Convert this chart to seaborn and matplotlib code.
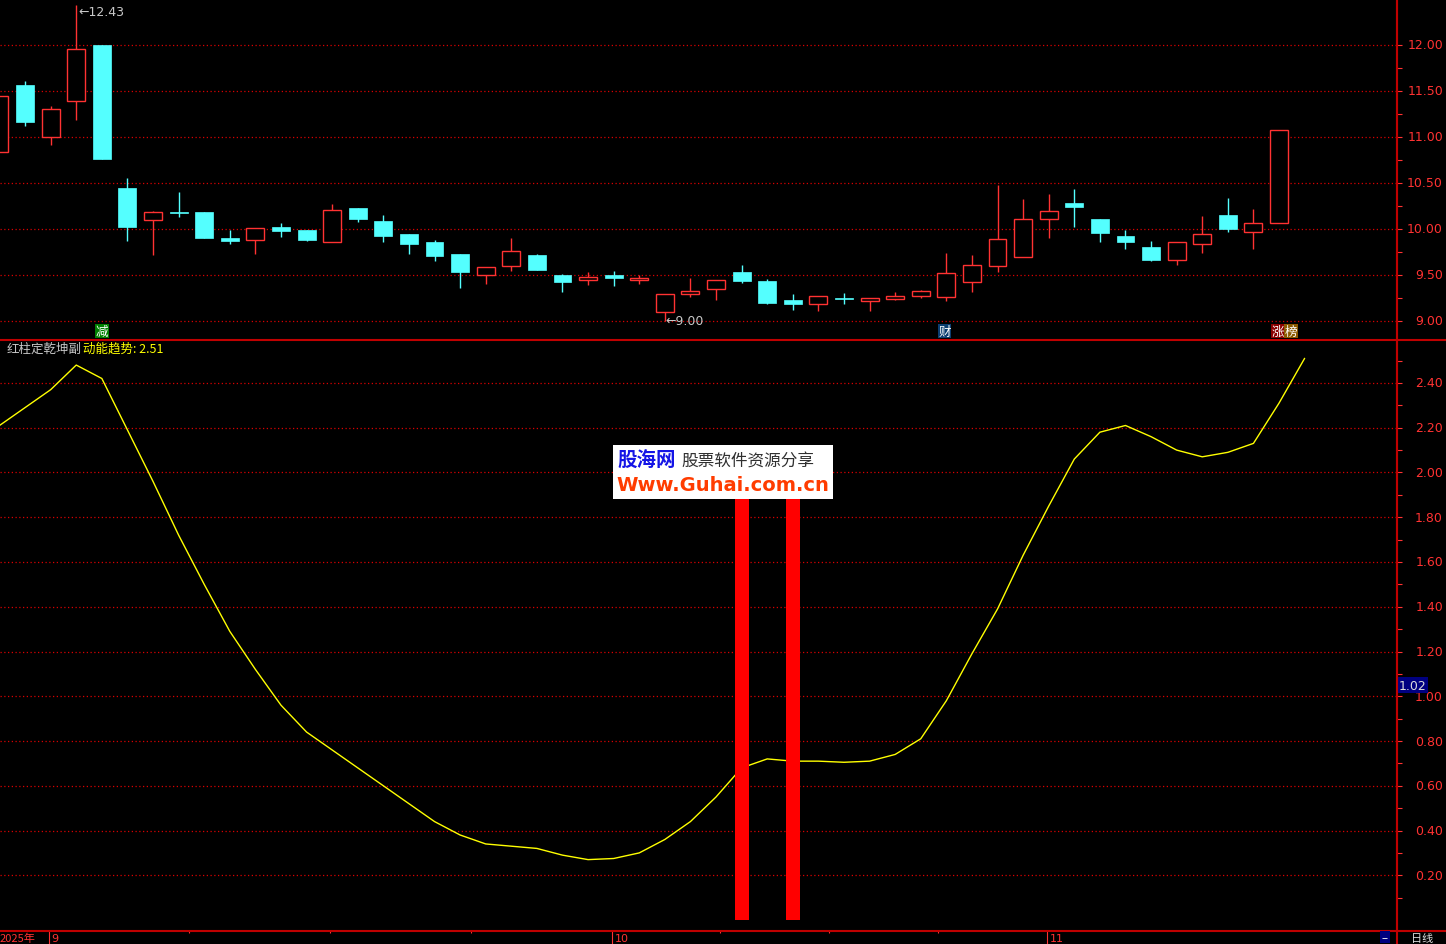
import matplotlib
matplotlib.use("Agg")
import matplotlib.pyplot as plt
import matplotlib.ticker as mticker
import matplotlib.transforms as mtransforms
from matplotlib.lines import Line2D
import numpy as np
import pandas as pd
import seaborn as sns

# daily candles
opens = [10.84, 11.57, 11.00, 11.39, 12.00, 10.45, 10.10, 10.19, 10.18, 9.90,
         9.88, 10.02, 9.99, 9.86, 10.23, 10.09, 9.95, 9.86, 9.73, 9.50,
         9.60, 9.72, 9.50, 9.45, 9.50, 9.45, 9.10, 9.29, 9.35, 9.53,
         9.43, 9.23, 9.18, 9.245, 9.22, 9.24, 9.27, 9.26, 9.42, 9.60,
         9.70, 10.11, 10.28, 10.11, 9.92, 9.80, 9.66, 9.84, 10.15, 9.97,
         10.07]
highs = [11.45, 11.61, 11.34, 12.43, 12.00, 10.55, 10.20, 10.40, 10.18, 9.99,
         10.01, 10.07, 9.99, 10.27, 10.23, 10.15, 9.95, 9.88, 9.73, 9.59,
         9.90, 9.73, 9.51, 9.53, 9.54, 9.50, 9.29, 9.47, 9.45, 9.61,
         9.46, 9.29, 9.27, 9.30, 9.25, 9.31, 9.34, 9.74, 9.72, 10.48,
         10.33, 10.38, 10.43, 10.11, 9.99, 9.87, 9.86, 10.14, 10.34, 10.22,
         11.08]
lows = [10.84, 11.12, 10.91, 11.18, 10.76, 9.87, 9.72, 10.13, 9.90, 9.84,
        9.73, 9.91, 9.87, 9.86, 10.08, 9.86, 9.73, 9.65, 9.36, 9.40,
        9.54, 9.55, 9.32, 9.39, 9.38, 9.40, 9.00, 9.26, 9.23, 9.41,
        9.18, 9.12, 9.11, 9.18, 9.11, 9.23, 9.25, 9.22, 9.32, 9.53,
        9.70, 9.90, 10.02, 9.86, 9.78, 9.65, 9.61, 9.74, 9.97, 9.78,
        10.07]
closes = [11.45, 11.16, 11.30, 11.96, 10.76, 10.02, 10.18, 10.17, 9.90, 9.87,
          10.01, 9.98, 9.88, 10.21, 10.11, 9.92, 9.84, 9.71, 9.53, 9.59,
          9.76, 9.55, 9.42, 9.48, 9.47, 9.47, 9.29, 9.33, 9.45, 9.43,
          9.20, 9.18, 9.27, 9.235, 9.25, 9.27, 9.33, 9.52, 9.61, 9.89,
          10.11, 10.20, 10.24, 9.96, 9.86, 9.66, 9.86, 9.95, 10.00, 10.07,
          11.08]

# 动能趋势 line (one more point than candles)
momentum = [2.21, 2.29, 2.37, 2.48, 2.42, 2.19, 1.96, 1.72, 1.50, 1.29,
            1.12, 0.96, 0.84, 0.76, 0.68, 0.60, 0.52, 0.44, 0.38, 0.34,
            0.33, 0.32, 0.29, 0.27, 0.275, 0.30, 0.36, 0.44, 0.55, 0.68,
            0.72, 0.71, 0.71, 0.705, 0.71, 0.74, 0.81, 0.98, 1.19, 1.39,
            1.63, 1.85, 2.06, 2.18, 2.21, 2.16, 2.10, 2.07, 2.09, 2.13,
            2.31, 2.51]

# red columns
signal_idx = [29, 31]
signal_val = [2.0, 2.0]

tags = ["减", "财", "涨", "榜"]
tag_idx = [4, 37, 50, 50]
month_labels = ["9", "10", "11"]
month_idx = [2, 24, 41]

W, H = 1446, 945
axis_red = "#ff3232"
grid_red = "#d80000"
line_red = "#c00000"
up_col, dn_col = "#ff3232", "#54ffff"

sns.set_theme(style="dark", rc={"axes.facecolor": "black", "figure.facecolor": "black",
                                "savefig.facecolor": "black"})
plt.rcParams['font.family'] = ['DejaVu Sans', 'Noto Sans CJK SC']
cjk = ['Noto Sans CJK SC', 'DejaVu Sans']

fig = plt.figure(figsize=(W / 100, H / 100), dpi=100)
ax1 = fig.add_axes([0, 1 - 340 / H, 1397 / W, 340 / H])
ax2 = fig.add_axes([0, 13 / H, 1397 / W, (932 - 341) / H])

df = pd.DataFrame({"open": opens, "high": highs, "low": lows, "close": closes})
df["idx"] = np.arange(len(df))
df["up"] = df.close >= df.open
up = df[df.up]
dn = df[~df.up]

# candles
ax1.vlines(df.idx, df.low, df.high, colors=np.where(df.up, up_col, dn_col), linewidth=1.0, zorder=2)
ax1.bar(up.idx, up.close - up.open, bottom=up.open, width=0.7, facecolor="black",
        edgecolor=up_col, linewidth=1.0, zorder=3)
ax1.bar(dn.idx, dn.open - dn.close, bottom=dn.close, width=0.7, color=dn_col,
        edgecolor=dn_col, linewidth=0.5, zorder=3)

ax1.set_xlim(0.02, 54.61)
ax1.set_ylim(8.804, 12.5)
ax2.set_xlim(0.02, 54.61)
ax2.set_ylim(-0.049, 2.592)

# high / low markers
hi = int(np.argmax(highs))
lo = int(np.argmin(lows))
ax1.text(hi + 0.07, highs[hi], f"←{highs[hi]:.2f}", color="#c8c8c8", fontsize=9, va="top", ha="left")
ax1.text(lo + 0.02, lows[lo], f"←{lows[lo]:.2f}", color="#c8c8c8", fontsize=9, va="center", ha="left")

# tags at the bottom of the price panel
tag_off = [0.0, -0.07, -0.04, 0.47]
tag_bg = ["#008000", "#0b3d70", "#8b0000", "#8b5a00"]
ttrans = mtransforms.blended_transform_factory(ax1.transData, ax1.transAxes)
for t, i, o, bg in zip(tags, tag_idx, tag_off, tag_bg):
    ax1.text(i + o, 8 / 340, t, transform=ttrans, ha="center", va="center", color="white",
             fontsize=9, family=cjk, bbox=dict(boxstyle="square,pad=0.05", fc=bg, ec="none"))

# momentum panel
sns.lineplot(x=np.arange(len(momentum)), y=momentum, ax=ax2, color="#ffff00", linewidth=1.0, zorder=2)
ax2.bar(signal_idx, signal_val, width=0.55, color="#ff0000", edgecolor="none", linewidth=0, zorder=3)
ax2.text(7 / 1397, 1 - 8 / 591, "红柱定乾坤副", transform=ax2.transAxes, color="#c8c8c8",
         fontsize=9, family=cjk, va="center", ha="left")
ax2.text(83 / 1397, 1 - 8 / 591, f"动能趋势: {momentum[-1]:.2f}", transform=ax2.transAxes,
         color="#ffff00", fontsize=9, family=cjk, va="center", ha="left")

# y axes on the right
top_major = [9.0, 9.5, 10.0, 10.5, 11.0, 11.5, 12.0]
top_minor = [9.25, 9.75, 10.25, 10.75, 11.25, 11.75]
bot_major = [round(0.2 * k, 2) for k in range(1, 13)]
bot_minor = [round(0.1 * k, 2) for k in range(1, 26) if k % 2]

for ax, major, minor in [(ax1, top_major, top_minor), (ax2, bot_major, bot_minor)]:
    ax.yaxis.set_major_locator(mticker.FixedLocator(major))
    ax.yaxis.set_minor_locator(mticker.FixedLocator(minor))
    ax.tick_params(axis="y", which="both", left=False, right=True, labelleft=False,
                   labelright=False, direction="out", length=3.6, width=0.8, color=axis_red)
    ax.yaxis.grid(True, which="major", color=grid_red, linestyle=(0, (1, 2)), linewidth=0.9)
    ax.xaxis.grid(False)
    ax.set_xlabel("")
    ax.set_ylabel("")
    for s in ["left", "top", "bottom"]:
        ax.spines[s].set_visible(False)
    ax.spines["right"].set_color(line_red)
    ax.spines["right"].set_linewidth(1.5)
    rtrans = mtransforms.blended_transform_factory(fig.transFigure, ax.transData)
    for v in major:
        ax.text(1443 / W, v, f"{v:.2f}", transform=rtrans, ha="right", va="center",
                color=axis_red, fontsize=9)

# date axis
ax1.set_xticks([])
month_pos = [m - 0.08 for m in month_idx]
quarter = []
for a, b in zip(month_pos[:-1], month_pos[1:]):
    quarter += list(np.linspace(a, b, 5)[1:-1])
ax2.set_xticks(month_pos)
ax2.set_xticks(quarter, minor=True)
ax2.tick_params(axis="x", which="major", bottom=True, direction="out", length=10, width=0.8,
                color=axis_red, labelbottom=False)
ax2.tick_params(axis="x", which="minor", bottom=True, direction="out", length=1.6, width=0.8,
                color=axis_red)
dtrans = mtransforms.blended_transform_factory(ax2.transData, ax2.transAxes)
ty = -12 / 591
ax2.text(0.0, ty, "2025年", transform=ax2.transAxes, color=axis_red, fontsize=8,
         family=cjk, ha="left", va="bottom")
for m, lab in zip(month_pos, month_labels):
    ax2.text(m + 0.12, ty, lab, transform=dtrans, color=axis_red, fontsize=8,
             ha="left", va="bottom")

# frame lines
fig.add_artist(Line2D([0, 1], [1 - 340.5 / H] * 2, color=line_red, linewidth=1.5))
fig.add_artist(Line2D([0, 1], [13 / H] * 2, color=line_red, linewidth=1.5))
fig.add_artist(Line2D([1397 / W] * 2, [0, 1], color=line_red, linewidth=1.5))

# current value box and status cells
vtrans = mtransforms.blended_transform_factory(fig.transFigure, ax2.transData)
ax2.text(1399 / W, 1.02, "1.02", transform=vtrans, ha="left", va="bottom", color="#dcdcdc",
         fontsize=9, bbox=dict(boxstyle="square,pad=0.12", fc="#000080", ec="none"))
fig.text(1422 / W, 1 / H, "日线", color="#e0e0e0", fontsize=8, family=cjk, ha="center", va="bottom")
fig.text(1385 / W, 2 / H, "--", color="white", fontsize=7, ha="center", va="bottom",
         bbox=dict(boxstyle="square,pad=0.15", fc="#000080", ec="none"))

# site watermark
axw = fig.add_axes([613 / W, 1 - 500 / H, 220 / W, 54 / H])
axw.set_facecolor("white")
axw.set_xticks([])
axw.set_yticks([])
for s in axw.spines.values():
    s.set_visible(False)
axw.text(0.02, 0.72, "股海网", color="#1414e6", fontsize=14, weight="bold", family=cjk,
         ha="left", va="center")
axw.text(0.31, 0.72, "股票软件资源分享", color="#303030", fontsize=12, family=cjk,
         ha="left", va="center")
axw.text(0.5, 0.27, "Www.Guhai.com.cn", color="#ff3c00", fontsize=14, weight="bold",
         ha="center", va="center")

fig.savefig("out.png", dpi=100, facecolor="black")
